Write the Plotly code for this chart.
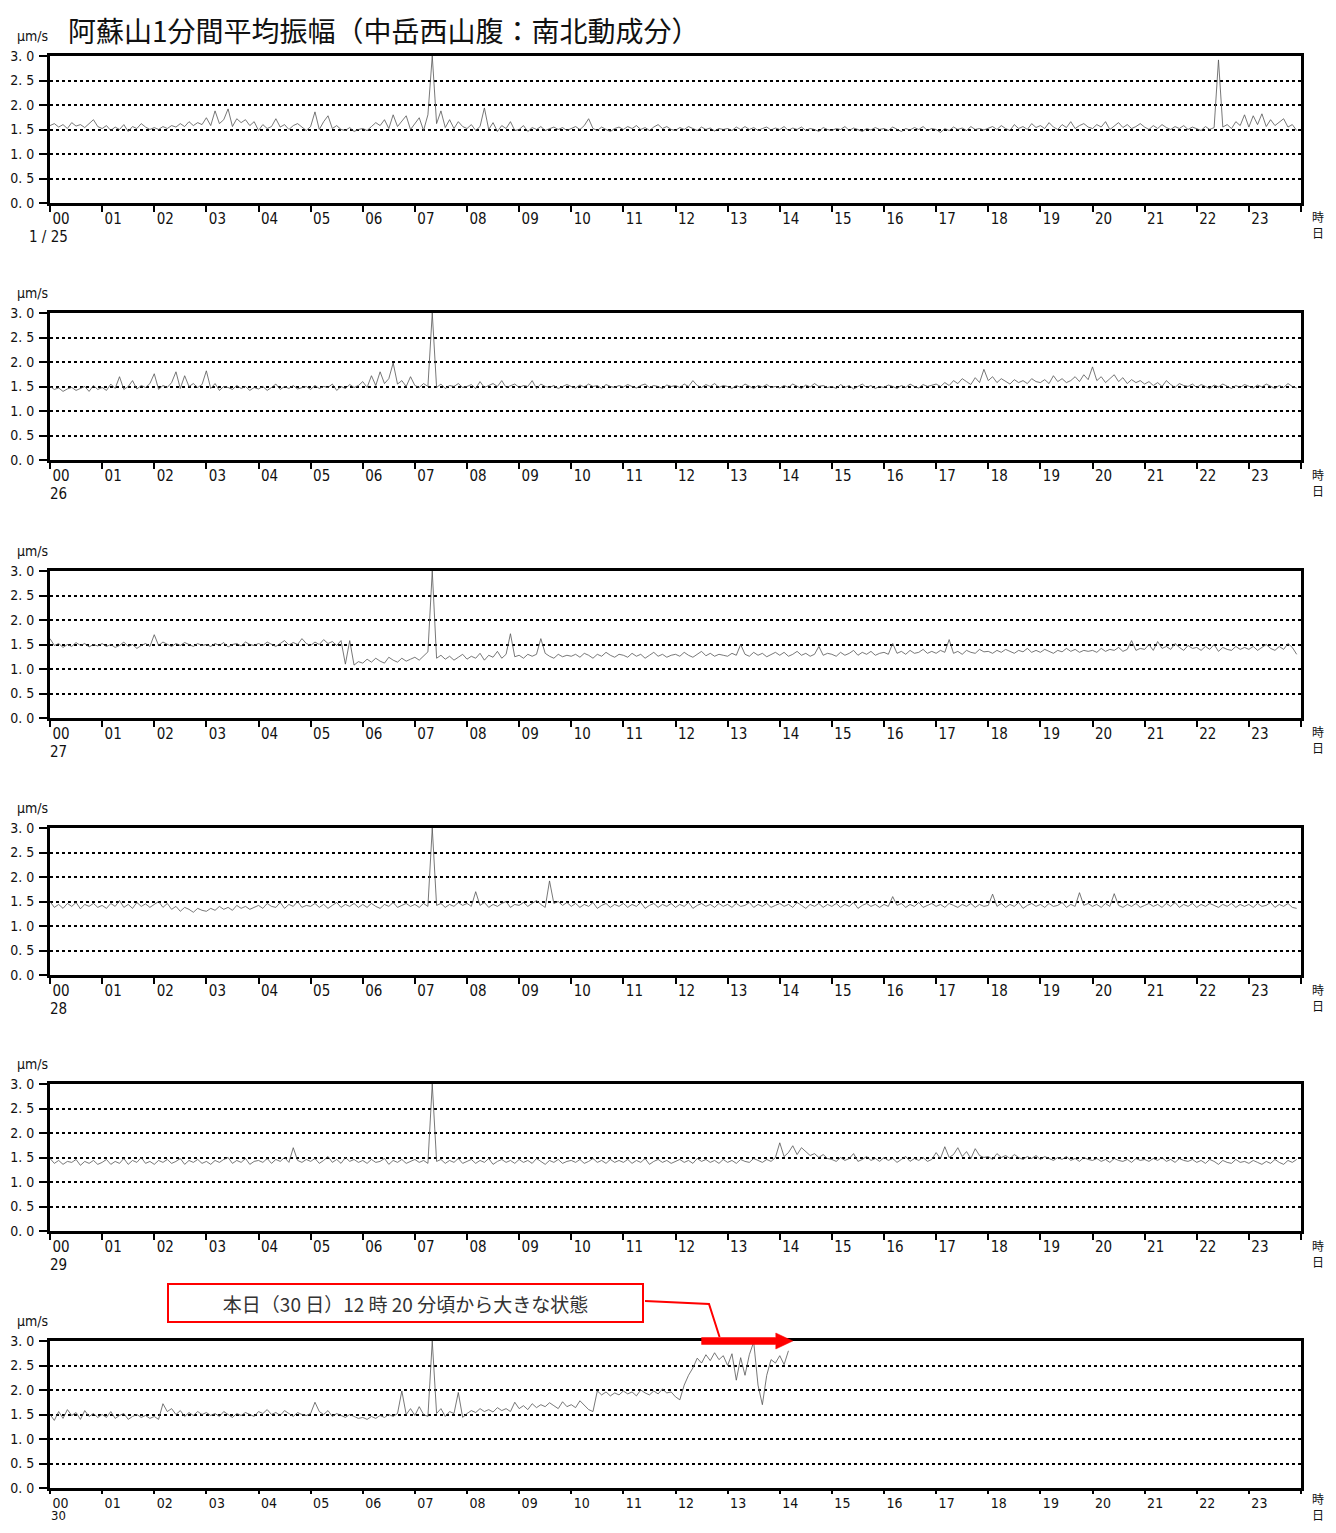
import plotly.graph_objects as go

# ---------------- data (1-minute mean amplitude, sampled every 5 min, μm/s) ----------------
day_labels = ["1 / 25", "26", "27", "28", "29", "30"]
hour_labels = ["%02d" % h for h in range(24)]
y_tick_vals = [0.0, 0.5, 1.0, 1.5, 2.0, 2.5, 3.0]
y_tick_text = ["0. 0", "0. 5", "1. 0", "1. 5", "2. 0", "2. 5", "3. 0"]
sample_minutes = 5

amp_25 = [
    1.58, 1.62, 1.55, 1.60, 1.52, 1.64, 1.57, 1.60, 1.54, 1.62, 1.70, 1.56,
    1.52, 1.58, 1.48, 1.55, 1.50, 1.60, 1.46, 1.56, 1.52, 1.62, 1.55, 1.50,
    1.54, 1.50, 1.56, 1.52, 1.58, 1.55, 1.62, 1.56, 1.66, 1.58, 1.64, 1.60,
    1.74, 1.58, 1.88, 1.62, 1.70, 1.92, 1.56, 1.72, 1.64, 1.70, 1.58, 1.66,
    1.48, 1.60, 1.52, 1.56, 1.72, 1.55, 1.60, 1.50, 1.58, 1.62, 1.54, 1.48,
    1.56, 1.86, 1.50, 1.66, 1.78, 1.52, 1.58, 1.50, 1.48, 1.54, 1.46, 1.50,
    1.52, 1.48, 1.56, 1.64, 1.58, 1.70, 1.52, 1.80, 1.56, 1.66, 1.78, 1.50,
    1.62, 1.74, 1.48, 1.80, 3.00, 1.62, 1.88, 1.54, 1.70, 1.52, 1.66, 1.56,
    1.52, 1.60, 1.48, 1.56, 1.94, 1.50, 1.64, 1.46, 1.58, 1.52, 1.66, 1.48,
    1.50, 1.58, 1.46, 1.54, 1.50, 1.56, 1.48, 1.52, 1.55, 1.50, 1.54, 1.48,
    1.52, 1.56, 1.50, 1.58, 1.72, 1.52, 1.48, 1.55, 1.50, 1.46, 1.52, 1.55,
    1.50, 1.56, 1.52, 1.58, 1.50, 1.54, 1.48, 1.55, 1.60, 1.52, 1.56, 1.50,
    1.48, 1.54, 1.50, 1.56, 1.52, 1.48, 1.55, 1.50, 1.53, 1.47, 1.52, 1.50,
    1.52, 1.48, 1.55, 1.50, 1.56, 1.50, 1.54, 1.48, 1.52, 1.55, 1.49, 1.53,
    1.50, 1.56, 1.48, 1.53, 1.50, 1.55, 1.48, 1.52, 1.50, 1.46, 1.54, 1.50,
    1.48, 1.52, 1.50, 1.56, 1.48, 1.53, 1.50, 1.46, 1.52, 1.49, 1.54, 1.50,
    1.52, 1.48, 1.55, 1.50, 1.46, 1.52, 1.49, 1.54, 1.50, 1.56, 1.48, 1.52,
    1.50, 1.44, 1.52, 1.48, 1.55, 1.50, 1.53, 1.48, 1.56, 1.50, 1.52, 1.49,
    1.52, 1.56, 1.50, 1.58, 1.52, 1.48, 1.60, 1.52, 1.56, 1.50, 1.62, 1.54,
    1.58, 1.52, 1.64, 1.55, 1.50, 1.60, 1.54, 1.66, 1.52, 1.58, 1.62, 1.55,
    1.52, 1.60, 1.55, 1.66, 1.50, 1.58, 1.64, 1.54, 1.60, 1.52, 1.56, 1.62,
    1.55, 1.50, 1.58, 1.52, 1.60, 1.54, 1.50, 1.56, 1.52, 1.58, 1.50, 1.55,
    1.52, 1.48, 1.56, 1.50, 1.54, 2.92, 1.55, 1.60, 1.52, 1.66, 1.58, 1.80,
    1.55, 1.78, 1.60, 1.82, 1.56, 1.70, 1.58, 1.66, 1.72, 1.55, 1.60, 1.48,
]

amp_26 = [
    1.50, 1.44, 1.47, 1.40, 1.45, 1.48, 1.42, 1.46, 1.50, 1.40, 1.52, 1.44,
    1.48, 1.42, 1.55, 1.46, 1.70, 1.44, 1.50, 1.62, 1.45, 1.52, 1.48, 1.56,
    1.76, 1.44, 1.52, 1.48, 1.58, 1.80, 1.46, 1.72, 1.50, 1.56, 1.48, 1.54,
    1.82, 1.46, 1.56, 1.42, 1.50, 1.48, 1.44, 1.52, 1.46, 1.50, 1.42, 1.48,
    1.45, 1.50, 1.42, 1.48, 1.55, 1.44, 1.50, 1.46, 1.52, 1.45, 1.48, 1.50,
    1.44, 1.52, 1.46, 1.50, 1.48, 1.55, 1.42, 1.50, 1.46, 1.54, 1.48, 1.52,
    1.60, 1.48, 1.72, 1.52, 1.80, 1.56, 1.66, 1.98, 1.55, 1.62, 1.50, 1.70,
    1.52, 1.48, 1.56, 1.50, 3.00, 1.48, 1.55, 1.46, 1.52, 1.50, 1.56, 1.48,
    1.50, 1.54, 1.46, 1.60, 1.48, 1.52, 1.56, 1.50, 1.62, 1.48, 1.52, 1.55,
    1.48, 1.52, 1.50, 1.62, 1.46, 1.55, 1.50, 1.48, 1.52, 1.46, 1.50, 1.54,
    1.50, 1.47, 1.53, 1.49, 1.55, 1.50, 1.52, 1.46, 1.54, 1.50, 1.48, 1.52,
    1.49, 1.54, 1.50, 1.47, 1.52, 1.55, 1.48, 1.52, 1.50, 1.46, 1.53, 1.50,
    1.52, 1.48, 1.55, 1.50, 1.62, 1.52, 1.48, 1.54, 1.50, 1.56, 1.48, 1.52,
    1.50, 1.46, 1.52, 1.48, 1.55, 1.50, 1.46, 1.52, 1.49, 1.54, 1.48, 1.50,
    1.47, 1.52, 1.48, 1.55, 1.50, 1.46, 1.53, 1.49, 1.56, 1.50, 1.52, 1.48,
    1.50, 1.46, 1.54, 1.48, 1.52, 1.45, 1.50, 1.55, 1.48, 1.52, 1.46, 1.50,
    1.48, 1.53, 1.50, 1.46, 1.52, 1.48, 1.55, 1.50, 1.47, 1.54, 1.50, 1.52,
    1.55, 1.50, 1.58, 1.52, 1.62, 1.56, 1.66, 1.60, 1.54, 1.68, 1.58, 1.85,
    1.62, 1.70, 1.58, 1.66, 1.60, 1.55, 1.64, 1.58, 1.62, 1.56, 1.66, 1.60,
    1.58, 1.64, 1.56, 1.72, 1.60, 1.66, 1.58, 1.62, 1.70, 1.60, 1.74, 1.64,
    1.90, 1.62, 1.70, 1.58, 1.66, 1.74, 1.60, 1.68, 1.56, 1.64, 1.58, 1.62,
    1.55, 1.60, 1.52, 1.58, 1.50, 1.62, 1.54, 1.48, 1.56, 1.52, 1.50, 1.55,
    1.48, 1.54, 1.50, 1.46, 1.53, 1.49, 1.55, 1.50, 1.46, 1.52, 1.48, 1.54,
    1.50, 1.47, 1.53, 1.49, 1.55, 1.50, 1.46, 1.52, 1.48, 1.56, 1.50, 1.47,
]

amp_27 = [
    1.62, 1.48, 1.52, 1.44, 1.50, 1.46, 1.54, 1.48, 1.52, 1.45, 1.50, 1.47,
    1.52, 1.46, 1.50, 1.44, 1.48, 1.55, 1.46, 1.50, 1.42, 1.48, 1.52, 1.46,
    1.70, 1.48, 1.55, 1.50, 1.46, 1.52, 1.48, 1.54, 1.50, 1.46, 1.52, 1.48,
    1.50, 1.46, 1.52, 1.48, 1.54, 1.45, 1.50, 1.52, 1.47, 1.55, 1.50, 1.48,
    1.52, 1.48, 1.55, 1.50, 1.46, 1.52, 1.58, 1.49, 1.54, 1.50, 1.62, 1.52,
    1.48, 1.55, 1.50, 1.60, 1.52, 1.56, 1.48, 1.58, 1.10, 1.58, 1.08, 1.15,
    1.12, 1.20, 1.14, 1.22, 1.16, 1.12, 1.24, 1.18, 1.14, 1.22, 1.16, 1.20,
    1.24, 1.18, 1.26, 1.35, 3.00, 1.22, 1.28, 1.20, 1.26, 1.18, 1.24, 1.30,
    1.20, 1.26, 1.22, 1.32, 1.18, 1.28, 1.24, 1.36, 1.22, 1.30, 1.72, 1.25,
    1.28, 1.22, 1.30, 1.26, 1.30, 1.62, 1.32, 1.26, 1.22, 1.30, 1.25, 1.28,
    1.26, 1.30, 1.24, 1.32, 1.28, 1.22, 1.30, 1.26, 1.34, 1.28, 1.24, 1.30,
    1.28, 1.24, 1.32, 1.26, 1.30, 1.22, 1.28, 1.34, 1.26, 1.30, 1.24, 1.28,
    1.30, 1.26, 1.34, 1.28, 1.24, 1.30, 1.36, 1.27, 1.32, 1.26, 1.30, 1.28,
    1.26, 1.32, 1.28, 1.50, 1.30, 1.26, 1.34, 1.28, 1.32, 1.25, 1.30, 1.34,
    1.28, 1.34, 1.26, 1.30, 1.36, 1.28, 1.32, 1.26, 1.30, 1.46, 1.28, 1.32,
    1.30, 1.26, 1.34, 1.28, 1.32, 1.38, 1.28, 1.34, 1.30, 1.36, 1.28, 1.32,
    1.34, 1.30, 1.52, 1.32, 1.36, 1.30, 1.38, 1.32, 1.34, 1.40, 1.32, 1.36,
    1.32, 1.38, 1.34, 1.60, 1.32, 1.36, 1.30, 1.38, 1.34, 1.32, 1.40, 1.35,
    1.36, 1.32, 1.38, 1.34, 1.40, 1.36, 1.32, 1.38, 1.35, 1.42, 1.34, 1.38,
    1.34, 1.40, 1.36, 1.32, 1.38, 1.35, 1.42, 1.36, 1.40, 1.34, 1.38, 1.36,
    1.38, 1.34, 1.42, 1.36, 1.40, 1.38, 1.44, 1.36, 1.40, 1.58, 1.38, 1.42,
    1.40, 1.50, 1.38, 1.56, 1.42, 1.46, 1.40, 1.52, 1.44, 1.38, 1.48, 1.42,
    1.44, 1.38, 1.46, 1.40, 1.50, 1.36, 1.44, 1.40, 1.38, 1.46, 1.40, 1.44,
    1.40, 1.46, 1.38, 1.44, 1.50, 1.42, 1.38, 1.46, 1.40, 1.52, 1.44, 1.30,
]

amp_28 = [
    1.50, 1.38, 1.44, 1.36, 1.46, 1.40, 1.48, 1.35, 1.44, 1.40, 1.46, 1.38,
    1.42, 1.36, 1.46, 1.40, 1.52, 1.38, 1.44, 1.36, 1.48, 1.40, 1.45, 1.38,
    1.44, 1.50, 1.38, 1.46, 1.34, 1.40, 1.30, 1.38, 1.34, 1.28, 1.36, 1.32,
    1.30, 1.36, 1.32, 1.40, 1.34, 1.38, 1.32, 1.42, 1.36, 1.40, 1.34, 1.38,
    1.42, 1.36, 1.46, 1.40, 1.38, 1.48, 1.36, 1.44, 1.40, 1.50, 1.38, 1.42,
    1.40, 1.46, 1.38, 1.44, 1.36, 1.42, 1.48, 1.38, 1.44, 1.40, 1.46, 1.38,
    1.44, 1.38, 1.46, 1.40, 1.36, 1.44, 1.40, 1.48, 1.38, 1.42, 1.46, 1.40,
    1.44, 1.38, 1.46, 1.40, 3.00, 1.42, 1.46, 1.38, 1.44, 1.40, 1.48, 1.42,
    1.46, 1.40, 1.70, 1.42, 1.48, 1.38, 1.44, 1.40, 1.46, 1.50, 1.38, 1.44,
    1.42, 1.48, 1.40, 1.46, 1.52, 1.44, 1.38, 1.92, 1.46, 1.50, 1.42, 1.48,
    1.40, 1.46, 1.38, 1.44, 1.40, 1.48, 1.36, 1.42, 1.46, 1.38, 1.44, 1.40,
    1.46, 1.38, 1.44, 1.40, 1.48, 1.36, 1.42, 1.46, 1.38, 1.44, 1.40, 1.46,
    1.38, 1.44, 1.40, 1.48, 1.36, 1.42, 1.46, 1.40, 1.44, 1.38, 1.46, 1.40,
    1.44, 1.38, 1.46, 1.40, 1.42, 1.48, 1.38, 1.44, 1.40, 1.46, 1.38, 1.42,
    1.46, 1.40, 1.44, 1.38, 1.48, 1.42, 1.36, 1.44, 1.40, 1.46, 1.38, 1.44,
    1.40, 1.46, 1.38, 1.44, 1.40, 1.48, 1.36, 1.42, 1.46, 1.40, 1.44, 1.38,
    1.44, 1.40, 1.60, 1.42, 1.46, 1.38, 1.44, 1.40, 1.48, 1.38, 1.42, 1.46,
    1.40, 1.44, 1.38, 1.46, 1.42, 1.38, 1.44, 1.40, 1.46, 1.38, 1.44, 1.40,
    1.42, 1.65, 1.40, 1.46, 1.38, 1.44, 1.40, 1.48, 1.36, 1.42, 1.46, 1.40,
    1.44, 1.38, 1.46, 1.40, 1.42, 1.48, 1.38, 1.44, 1.40, 1.68, 1.42, 1.46,
    1.40, 1.44, 1.38, 1.46, 1.40, 1.66, 1.42, 1.38, 1.44, 1.40, 1.46, 1.38,
    1.42, 1.46, 1.40, 1.44, 1.38, 1.46, 1.40, 1.48, 1.38, 1.44, 1.40, 1.46,
    1.38, 1.44, 1.40, 1.46, 1.42, 1.38, 1.44, 1.40, 1.46, 1.38, 1.44, 1.40,
    1.44, 1.38, 1.46, 1.40, 1.42, 1.48, 1.38, 1.44, 1.40, 1.46, 1.38, 1.36,
]

amp_29 = [
    1.48, 1.38, 1.44, 1.36, 1.42, 1.40, 1.46, 1.34, 1.42, 1.38, 1.44, 1.36,
    1.40, 1.46, 1.36, 1.42, 1.38, 1.48, 1.36, 1.44, 1.40, 1.50, 1.38, 1.42,
    1.36, 1.44, 1.40, 1.46, 1.38, 1.42, 1.48, 1.36, 1.44, 1.40, 1.46, 1.38,
    1.42, 1.36, 1.44, 1.40, 1.46, 1.50, 1.38, 1.44, 1.40, 1.48, 1.36, 1.42,
    1.44, 1.40, 1.48, 1.38, 1.46, 1.42, 1.50, 1.40, 1.70, 1.44, 1.40, 1.46,
    1.42, 1.48, 1.38, 1.44, 1.52, 1.40, 1.46, 1.38, 1.50, 1.42, 1.46, 1.40,
    1.44, 1.38, 1.46, 1.40, 1.42, 1.48, 1.36, 1.44, 1.40, 1.46, 1.38, 1.42,
    1.46, 1.40, 1.44, 1.38, 3.00, 1.42, 1.46, 1.38, 1.44, 1.40, 1.48, 1.38,
    1.42, 1.46, 1.38, 1.44, 1.40, 1.48, 1.36, 1.42, 1.46, 1.40, 1.44, 1.38,
    1.46, 1.40, 1.44, 1.38, 1.48, 1.42, 1.36, 1.44, 1.40, 1.46, 1.38, 1.42,
    1.44, 1.40, 1.46, 1.38, 1.42, 1.48, 1.40, 1.44, 1.38, 1.46, 1.40, 1.44,
    1.40, 1.46, 1.38, 1.44, 1.40, 1.48, 1.36, 1.42, 1.46, 1.40, 1.44, 1.38,
    1.42, 1.46, 1.40, 1.44, 1.38, 1.48, 1.42, 1.46, 1.40, 1.44, 1.38, 1.46,
    1.40, 1.44, 1.38, 1.46, 1.42, 1.40, 1.48, 1.44, 1.40, 1.46, 1.42, 1.50,
    1.80, 1.52, 1.60, 1.74, 1.56, 1.70, 1.62, 1.54, 1.58, 1.50, 1.56, 1.48,
    1.46, 1.42, 1.50, 1.44, 1.48, 1.58, 1.42, 1.46, 1.52, 1.44, 1.48, 1.42,
    1.50, 1.44, 1.48, 1.40, 1.46, 1.52, 1.42, 1.48, 1.44, 1.50, 1.42, 1.46,
    1.60, 1.48, 1.72, 1.50, 1.56, 1.70, 1.52, 1.62, 1.48, 1.68, 1.54, 1.50,
    1.52, 1.46, 1.58, 1.50, 1.54, 1.48, 1.56, 1.50, 1.46, 1.52, 1.48, 1.54,
    1.46, 1.52, 1.48, 1.44, 1.50, 1.46, 1.52, 1.44, 1.48, 1.42, 1.50, 1.46,
    1.44, 1.48, 1.42, 1.46, 1.40, 1.48, 1.44, 1.42, 1.46, 1.40, 1.48, 1.44,
    1.46, 1.42, 1.48, 1.44, 1.50, 1.42, 1.46, 1.40, 1.48, 1.44, 1.42, 1.46,
    1.40, 1.44, 1.38, 1.46, 1.42, 1.36, 1.44, 1.40, 1.38, 1.46, 1.40, 1.42,
    1.38, 1.44, 1.40, 1.36, 1.42, 1.38, 1.46, 1.40, 1.36, 1.44, 1.40, 1.46,
]

amp_30 = [
    1.50, 1.38, 1.56, 1.42, 1.60, 1.48, 1.54, 1.40, 1.58, 1.46, 1.52, 1.44,
    1.50, 1.44, 1.56, 1.42, 1.48, 1.52, 1.40, 1.46, 1.50, 1.44, 1.48, 1.42,
    1.46, 1.40, 1.72, 1.56, 1.62, 1.50, 1.58, 1.46, 1.54, 1.48, 1.56, 1.50,
    1.54, 1.48, 1.52, 1.46, 1.56, 1.50, 1.44, 1.52, 1.48, 1.54, 1.50, 1.46,
    1.56, 1.52, 1.60, 1.50, 1.54, 1.48, 1.58, 1.52, 1.46, 1.54, 1.50, 1.48,
    1.52, 1.75, 1.56, 1.50, 1.58, 1.46, 1.52, 1.48, 1.44, 1.50, 1.46, 1.42,
    1.44, 1.40, 1.46, 1.42, 1.48, 1.44, 1.50, 1.46, 1.52, 1.98, 1.50, 1.62,
    1.48, 1.66, 1.50, 1.46, 3.00, 1.52, 1.62, 1.46, 1.56, 1.52, 1.95, 1.44,
    1.52, 1.58, 1.54, 1.62, 1.56, 1.60, 1.55, 1.64, 1.58, 1.62, 1.56, 1.75,
    1.62, 1.68, 1.60, 1.72, 1.64, 1.70, 1.66, 1.74, 1.68, 1.62, 1.76, 1.66,
    1.70, 1.64, 1.78, 1.68, 1.60, 1.56, 1.98, 1.90, 1.96, 1.88, 1.94, 1.90,
    1.98, 1.92, 1.96, 1.88, 2.00, 1.94, 1.90, 1.98, 1.92, 2.02, 1.94, 1.96,
    1.86, 1.80, 2.10, 2.30, 2.45, 2.65, 2.55, 2.72, 2.60, 2.76, 2.62, 2.70,
    2.50, 2.74, 2.20, 2.66, 2.30, 2.72, 2.98, 2.10, 1.70, 2.30, 2.62, 2.55,
    2.70, 2.52, 2.80,
]

series = [amp_25, amp_26, amp_27, amp_28, amp_29, amp_30]

title_text = "阿蘇山1分間平均振幅（中岳西山腹：南北動成分）"
unit_text = "μm/s"
note_text = "本日（30 日）12 時 20 分頃から大きな状態"
arrow_start_h, arrow_end_h = 12.5, 14.25

# ---------------- layout geometry (pixels of the target picture) ----------------
PAGE_W, PAGE_H = 1336, 1533
OFF = 8                      # default body margin of the html page
W, H = PAGE_W - 2 * OFF, PAGE_H - 2 * OFF
FIG_BOTTOM = PAGE_H - OFF
PX_L, PX_R = 50, 1301
TOPS = [56, 313, 571, 828, 1084, 1341]
PH = 147
FONT = "Liberation Sans Narrow, DejaVu Sans Condensed, Noto Sans CJK JP, sans-serif"
CJK = "Noto Sans CJK JP"


def px(x):
    return (x - OFF) / W


def py(y):
    return 1 - (y - OFF) / H


def hour_to_px(h):
    return PX_L + (PX_R - PX_L) * h / 24.0


def val_to_py(v, top):
    return top + PH - PH * v / 3.0


def label(x, y, text, size, family=FONT, xanchor="center", yanchor="middle", color="#111"):
    return dict(x=px(x), y=py(y), xref="paper", yref="paper", text=text,
                showarrow=False, xanchor=xanchor, yanchor=yanchor,
                font=dict(size=size, family=family, color=color))


fig = go.Figure()
layout = dict(
    width=W, height=H, margin=dict(l=0, r=0, t=0, b=0),
    paper_bgcolor="white", plot_bgcolor="white", showlegend=False,
    font=dict(family=FONT, color="#111"),
)
annotations = []
shapes = []

for i, vals in enumerate(series):
    n = i + 1
    sfx = "" if n == 1 else str(n)
    t = TOPS[i]
    last = (i == len(series) - 1)
    hours = [k * sample_minutes / 60.0 for k in range(len(vals))]
    fig.add_trace(go.Scatter(x=hours, y=vals, mode="lines",
                             line=dict(color="#555555", width=0.8),
                             xaxis="x" + sfx, yaxis="y" + sfx, hoverinfo="skip"))
    layout["xaxis" + sfx] = dict(
        domain=[px(PX_L), px(PX_R)], anchor="y" + sfx, range=[0, 24],
        tickvals=list(range(25)), ticktext=hour_labels + [""],
        ticks="outside", ticklen=3 if last else 6, tickwidth=2, tickcolor="black",
        ticklabelposition="outside right",
        showline=True, linewidth=3, linecolor="black", mirror=True,
        showgrid=False, zeroline=False, fixedrange=True, automargin=False,
        tickfont=dict(size=14 if last else 15, family=FONT, color="#111"),
    )
    layout["yaxis" + sfx] = dict(
        domain=[py(t + PH), py(t)], anchor="x" + sfx, range=[0, 3],
        tickvals=y_tick_vals, ticktext=y_tick_text,
        ticks="outside", ticklen=8, tickwidth=2, tickcolor="black",
        ticklabelstandoff=2,
        showline=True, linewidth=3, linecolor="black", mirror=True,
        showgrid=True, gridcolor="black", gridwidth=2, griddash="dot",
        zeroline=False, fixedrange=True, automargin=False,
        tickfont=dict(size=14, family=FONT, color="#111"),
    )
    annotations.append(label(32, t - 20, unit_text, 14))
    if last:
        annotations.append(label(58, FIG_BOTTOM, day_labels[i], 13, yanchor="bottom"))
        annotations.append(label(1318, FIG_BOTTOM, "時<br>日", 12, CJK, yanchor="bottom"))
    else:
        annotations.append(label(48 if i == 0 else 58, t + PH + 34, day_labels[i], 15))
        annotations.append(label(1318, t + PH + 22, "時<br>日", 12, CJK))

# title
annotations.append(label(66, OFF, title_text, 28, CJK, xanchor="left", yanchor="top"))

# note box
box = label(405.5, 1303, note_text, 19, CJK, color="#333")
box.update(width=473, height=36, bordercolor="#ff0000", borderwidth=2,
           borderpad=0, bgcolor="white")
annotations.append(box)

# red arrow on the last panel
top6 = TOPS[5]
xa = hour_to_px(arrow_start_h)
xb = hour_to_px(arrow_end_h)
xh = xb - 17
yc = val_to_py(3.0, top6)
arrow_path = ("M {0},{1} L {2},{1} L {2},{3} L {4},{5} L {2},{6} L {2},{7} L {0},{7} Z".format(
    px(xa), py(yc - 3.5), px(xh), py(yc - 8), px(xb), py(yc), py(yc + 8), py(yc + 3.5)))
shapes.append(dict(type="path", path=arrow_path, xref="paper", yref="paper",
                   fillcolor="#ff0000", line=dict(color="#ff0000", width=0.5), layer="above"))
# connector from the note box to the arrow
conn_path = "M {},{} L {},{} L {},{}".format(px(645), py(1301), px(709), py(1304),
                                            px(xa + 18), py(yc - 4))
shapes.append(dict(type="path", path=conn_path, xref="paper", yref="paper",
                   line=dict(color="#ff0000", width=2), layer="above"))

layout["annotations"] = annotations
layout["shapes"] = shapes
fig.update_layout(**layout)
fig.write_html("out.html")
